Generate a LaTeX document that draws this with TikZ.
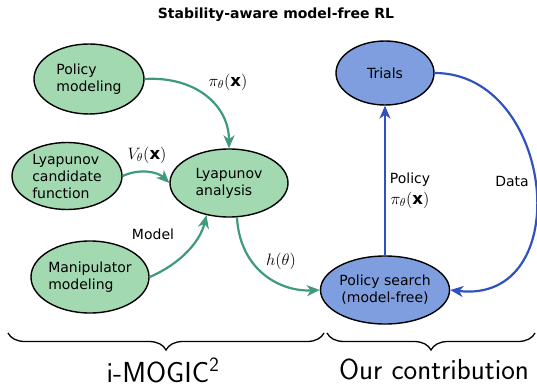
\RequirePackage{fix-cm}
\documentclass[tikz,border=0pt]{standalone}
\usepackage{fontspec}
\setmainfont{DejaVu Sans}
\usetikzlibrary{shapes.geometric,arrows.meta,decorations.pathreplacing}
\definecolor{gfill}{HTML}{A3D9B1}
\definecolor{bfill}{HTML}{7F9EDF}
\definecolor{gline}{HTML}{3E9A78}
\definecolor{bline}{HTML}{2F52BE}
\newcommand{\bvx}{\mbox{\bfseries x}}
\newcommand{\pix}{$\pi_\theta(\bvx)$}
\begin{document}
\begin{tikzpicture}[x=1pt,y=-1pt,
  blob/.style={ellipse,draw=black,line width=1.4pt,inner sep=0pt,
    font=\fontsize{14}{17}\selectfont},
  gblob/.style={blob,fill=gfill,align=left},
  bblob/.style={blob,fill=bfill,align=center},
  tip/.style={-{Stealth[length=13pt,width=11pt,inset=4pt]}},
  garrow/.style={draw=gline,line width=2.2pt,tip},
  barrow/.style={draw=bline,line width=2.2pt,tip},
  lbl/.style={font=\fontsize{14}{20}\selectfont,inner sep=0pt},
  mlbl/.style={font=\fontsize{16.5}{20}\selectfont,inner sep=0pt},
  bracket/.style={decorate,decoration={brace,mirror,amplitude=17pt},line width=1.3pt},
  biglbl/.style={font=\fontfamily{lmss}\fontsize{29}{32}\selectfont,inner sep=0pt,anchor=base}
]
\useasboundingbox (0,0) rectangle (537,387);

% title
\node[font=\bfseries\fontsize{14}{16}\selectfont] (title) at (276,15) {Stability-aware model-free RL};

% green stage: model-based analysis
\node[gblob,minimum width=110pt,minimum height=70pt] (pm) at (89,79) {Policy\\modeling};
\node[gblob,minimum width=110pt,minimum height=67pt] (lc) at (67,176) {Lyapunov\\candidate\\function};
\node[gblob,minimum width=118pt,minimum height=68pt] (la) at (229,183) {Lyapunov\\analysis};
\node[gblob,minimum width=116pt,minimum height=72pt] (mm) at (90,277) {Manipulator\\modeling};

% blue stage: model-free search
\node[bblob,minimum width=98pt,minimum height=64pt] (tr) at (385,73) {Trials};
\node[bblob,minimum width=122pt,minimum height=68pt] (ps) at (385,290) {Policy search\\(model-free)};

% connectors
\draw[garrow] (pm.east) .. controls (195,76) and (229,105) .. (la.north);
\draw[garrow] (lc.east) .. controls (140,168) and (158,172) .. (la.west);
\draw[garrow] (mm.east) .. controls (180,264) and (200,242) .. (la.-125);
\draw[garrow] (la.-77) .. controls (240,270) and (280,292) .. (ps.west);
\draw[barrow] (ps.north) -- (tr.south);
\draw[barrow] (tr.east) .. controls (555,73) and (578,305) .. (ps.east);

% connector labels
\node[mlbl] (l1) at (228,82) {\pix};
\node[mlbl] (l2) at (147,155) {$V_\theta(\bvx)$};
\node[lbl] (l3) at (153,234) {Model};
\node[mlbl] (l4) at (281,261) {$h(\theta)$};
\node[lbl,align=left] (l5) at (410,180) {Policy};
\node[mlbl] (l5b) at (410,200) {\pix};
\node[lbl] (l6) at (512,181) {Data};

% grouping braces
\coordinate (b1) at (8,333);
\coordinate (b2) at (324,333);
\coordinate (b3) at (327,333);
\coordinate (b4) at (535,333);
\draw[bracket] (b1) -- (b2);
\draw[bracket] (b3) -- (b4);
\node[biglbl] (g1) at (163,382) {i-MOGIC\textsuperscript{2}};
\node[biglbl] (g2) at (434,379) {Our contribution};
\end{tikzpicture}
\end{document}
